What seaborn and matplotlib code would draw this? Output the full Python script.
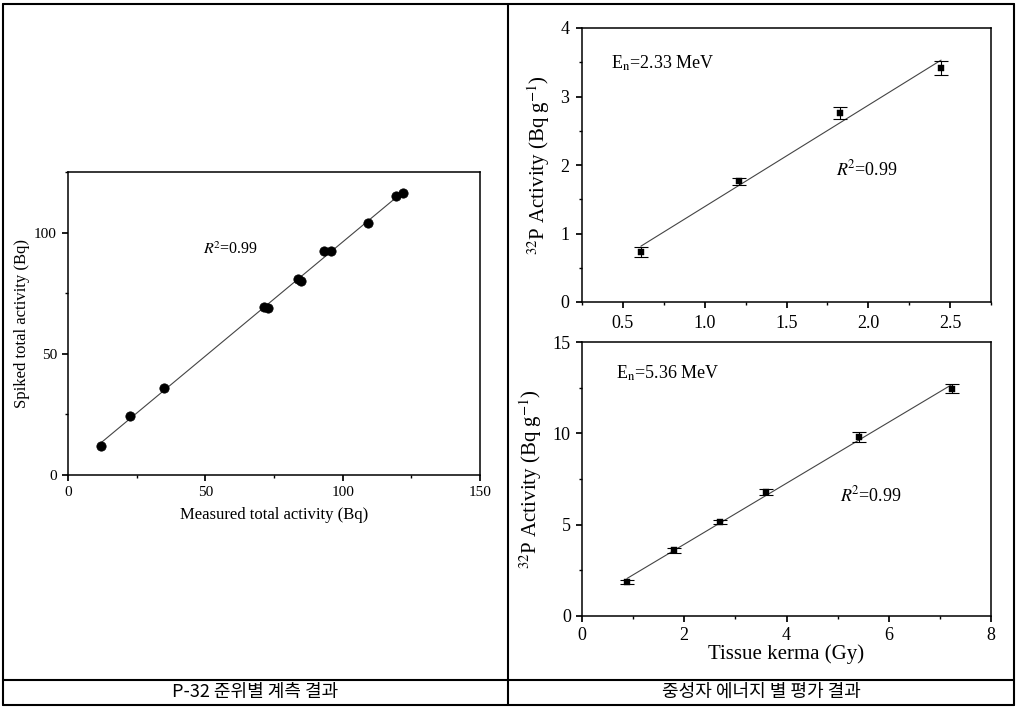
import numpy as np
import pandas as pd
import matplotlib
matplotlib.use("Agg")
import matplotlib.pyplot as plt
from matplotlib.lines import Line2D
from matplotlib.ticker import MultipleLocator, FormatStrFormatter
import seaborn as sns

# left panel: spiked vs measured total activity (Bq)
measured = [12.1, 22.6, 34.9, 71.4, 72.9, 83.8, 84.8, 93.3, 95.7, 109.3, 119.4, 121.8]
spiked = [12.1, 24.5, 36.0, 69.2, 69.0, 80.7, 80.1, 92.3, 92.3, 104.0, 115.3, 116.4]

# top right: En = 2.33 MeV
kerma_233 = [0.61, 1.21, 1.83, 2.445]
act_233 = [0.73, 1.76, 2.76, 3.42]
err_233 = [0.07, 0.05, 0.085, 0.10]

# bottom right: En = 5.36 MeV
kerma_536 = [0.88, 1.80, 2.70, 3.60, 5.42, 7.23]
act_536 = [1.86, 3.59, 5.15, 6.79, 9.80, 12.45]
err_536 = [0.10, 0.12, 0.12, 0.18, 0.25, 0.25]

captions = ["P-32 준위별 계측 결과", "중성자 에너지 별 평가 결과"]

sns.set_theme(style="white")
plt.rcParams.update({
    "font.family": ["Liberation Serif", "DejaVu Serif"],
    "mathtext.fontset": "stix",
    "axes.edgecolor": "black",
    "axes.linewidth": 1.0,
    "xtick.direction": "out",
    "ytick.direction": "out",
    "xtick.bottom": True,
    "ytick.left": True,
    "xtick.major.size": 4,
    "ytick.major.size": 4,
    "xtick.minor.size": 2.5,
    "ytick.minor.size": 2.5,
    "xtick.color": "black",
    "ytick.color": "black",
    "text.color": "black",
    "axes.labelcolor": "black",
})

W, H = 1019, 707
fig = plt.figure(figsize=(W / 100, H / 100), dpi=100)


def px_axes(x0, y0, x1, y1):
    return fig.add_axes([x0 / W, 1 - y1 / H, (x1 - x0) / W, (y1 - y0) / H])


def fit_line(ax, x, y):
    k, b = np.polyfit(x, y, 1)
    xs = np.array([min(x), max(x)])
    line = pd.DataFrame({"x": xs, "y": k * xs + b})
    sns.lineplot(data=line, x="x", y="y", ax=ax, color="#444444", lw=0.8)


R2 = r"$R^{\!2}$=0.99"
YLAB = r"$^{32}$P Activity (Bq g$^{-1}$)"

# ---- left panel
ax1 = px_axes(68, 172, 480, 475)
df1 = pd.DataFrame({"m": measured, "s": spiked})
fit_line(ax1, measured, spiked)
sns.scatterplot(data=df1, x="m", y="s", ax=ax1, color="black", s=45, edgecolor="black", zorder=3)
ax1.set_xlim(0, 150)
ax1.set_ylim(0, 125)
ax1.xaxis.set_major_locator(MultipleLocator(50))
ax1.xaxis.set_minor_locator(MultipleLocator(25))
ax1.yaxis.set_major_locator(MultipleLocator(50))
ax1.yaxis.set_minor_locator(MultipleLocator(25))
ax1.tick_params(labelsize=11, pad=4)
ax1.set_xlabel("Measured total activity (Bq)", fontsize=12, labelpad=6)
ax1.set_ylabel("Spiked total activity (Bq)", fontsize=12, labelpad=3)
ax1.text(49, 93, R2, fontsize=11.5, va="center")

# ---- top right panel
ax2 = px_axes(582, 28, 991, 302)
df2 = pd.DataFrame({"k": kerma_233, "a": act_233})
fit_line(ax2, kerma_233, act_233)
ax2.errorbar(kerma_233, act_233, yerr=err_233, fmt="none", ecolor="black",
             elinewidth=0.8, capsize=5, capthick=0.8)
sns.scatterplot(data=df2, x="k", y="a", ax=ax2, color="black", marker="s", s=14,
                edgecolor="black", zorder=3)
ax2.set_xlim(0.25, 2.75)
ax2.set_ylim(0, 4)
ax2.xaxis.set_major_locator(MultipleLocator(0.5))
ax2.xaxis.set_minor_locator(MultipleLocator(0.25))
ax2.yaxis.set_major_locator(MultipleLocator(1))
ax2.yaxis.set_minor_locator(MultipleLocator(0.5))
ax2.xaxis.set_major_formatter(FormatStrFormatter("%.1f"))
ax2.tick_params(labelsize=13, pad=5)
ax2.set_xlabel("")
ax2.set_ylabel(YLAB, fontsize=15, labelpad=6)
ax2.text(0.43, 3.49, r"E$_{\rm n}$=2.33 MeV", fontsize=13, va="center")
ax2.text(1.80, 1.93, R2, fontsize=13, va="center")

# ---- bottom right panel
ax3 = px_axes(582, 342, 991, 616)
df3 = pd.DataFrame({"k": kerma_536, "a": act_536})
fit_line(ax3, kerma_536, act_536)
ax3.errorbar(kerma_536, act_536, yerr=err_536, fmt="none", ecolor="black",
             elinewidth=0.8, capsize=5, capthick=0.8)
sns.scatterplot(data=df3, x="k", y="a", ax=ax3, color="black", marker="s", s=14,
                edgecolor="black", zorder=3)
ax3.set_xlim(0, 8)
ax3.set_ylim(0, 15)
ax3.xaxis.set_major_locator(MultipleLocator(2))
ax3.xaxis.set_minor_locator(MultipleLocator(1))
ax3.yaxis.set_major_locator(MultipleLocator(5))
ax3.yaxis.set_minor_locator(MultipleLocator(2.5))
ax3.tick_params(labelsize=13, pad=4)
ax3.set_xlabel("Tissue kerma (Gy)", fontsize=15, labelpad=0)
ax3.set_ylabel(YLAB, fontsize=15, labelpad=6)
ax3.text(0.66, 13.3, r"E$_{\rm n}$=5.36 MeV", fontsize=13, va="center")
ax3.text(5.04, 6.6, R2, fontsize=13, va="center")

for ax in (ax1, ax2, ax3):
    for sp in ax.spines.values():
        sp.set_visible(True)
        sp.set_linewidth(1.1)
    ax.tick_params(which="both", top=False, right=False)


# ---- table borders
def hline(y, x0=3, x1=1014):
    fig.add_artist(Line2D([x0 / W, x1 / W], [1 - y / H, 1 - y / H], color="black", lw=1.5))


def vline(x, y0=4, y1=705):
    fig.add_artist(Line2D([x / W, x / W], [1 - y0 / H, 1 - y1 / H], color="black", lw=1.5))


hline(4)
hline(680)
hline(705)
vline(3)
vline(508)
vline(1014)

for cx, cap in zip([255, 761], captions):
    fig.text(cx / W, 1 - 692 / H, cap, ha="center", va="center", fontsize=13,
             family=["Noto Sans CJK KR", "DejaVu Sans"], fontweight="light")

fig.savefig("out.png", dpi=100)
